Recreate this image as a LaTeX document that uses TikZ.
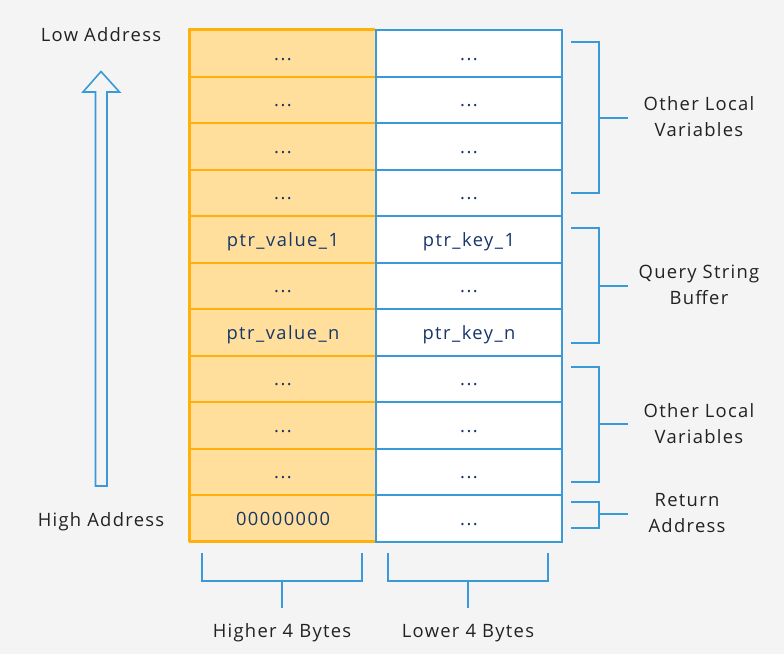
\documentclass[tikz,border=0pt]{standalone}
\usepackage{fontspec}
\setmainfont{Open Sans}
\newfontfamily\lblfont[LetterSpace=7]{Open Sans}
\newfontfamily\cellfont[LetterSpace=8]{Open Sans}
\definecolor{bgc}{HTML}{F4F4F4}
\definecolor{ofill}{HTML}{FFDF9B}
\definecolor{oline}{HTML}{FFB00A}
\definecolor{bline}{HTML}{3A9AD7}
\definecolor{navy}{HTML}{16356A}
\definecolor{txt}{HTML}{222222}
\newcommand{\myel}{...}
\tikzset{
  hcell/.style={draw=oline, fill=ofill, line width=2pt, minimum width=186pt, minimum height=46.5pt, inner sep=0pt, anchor=north west, text=navy, text height=14pt, text depth=0pt, font=\cellfont\fontsize{18.3}{20}\selectfont},
  lcell/.style={draw=bline, fill=white, line width=2pt, minimum width=186pt, minimum height=46.5pt, inner sep=0pt, anchor=north west, text=navy, text height=14pt, text depth=0pt, font=\cellfont\fontsize{18.3}{20}\selectfont},
  brk/.style={draw=bline, line width=1.6pt},
  lbl/.style={text=txt, font=\lblfont\fontsize{18.4}{26}\selectfont, align=center, inner sep=0pt}
}
\begin{document}
\begin{tikzpicture}[x=1pt,y=-1pt]
\fill[bgc] (0,0) rectangle (784,654);
\useasboundingbox (0,0) rectangle (784,654);
\foreach \i/\h/\l in {0/\myel/\myel, 1/\myel/\myel, 2/\myel/\myel, 3/\myel/\myel, 4/ptr\_value\_1/ptr\_key\_1, 5/\myel/\myel, 6/ptr\_value\_n/ptr\_key\_n, 7/\myel/\myel, 8/\myel/\myel, 9/\myel/\myel, 10/00000000/\myel}{
  \node[hcell] (h\i) at (189, 29+46.5*\i) {\h};
  \node[lcell] (l\i) at (375, 29+46.5*\i) {\l};
}
% redraw orange border on top
\draw[oline, line width=2pt] (375,29) -- (189,29) -- (189,540.5) -- (375,540.5);
% right brackets
\coordinate (b1a) at (571,42); \coordinate (b1b) at (571,193);
\draw[brk] (b1a) -- (599,42) -- (599,193) -- (b1b);
\draw[brk] (599,118) -- (628,118);
\node[lbl] (t1) at (699,117) {Other Local\\Variables};
\coordinate (b2a) at (571,228); \coordinate (b2b) at (571,343);
\draw[brk] (b2a) -- (599,228) -- (599,343) -- (b2b);
\draw[brk] (599,286) -- (628,286);
\node[lbl] (t2) at (699,285) {Query String\\Buffer};
\coordinate (b3a) at (571,367); \coordinate (b3b) at (571,482);
\draw[brk] (b3a) -- (599,367) -- (599,482) -- (b3b);
\draw[brk] (599,424) -- (628,424);
\node[lbl] (t3) at (699,424) {Other Local\\Variables};
\coordinate (b4a) at (571,502); \coordinate (b4b) at (571,528);
\draw[brk] (b4a) -- (599,502) -- (599,528) -- (b4b);
\draw[brk] (599,514) -- (628,514);
\node[lbl] (t4) at (687,513) {Return\\Address};
% bottom brackets
\draw[brk] (202,553) -- (202,581) -- (362,581) -- (362,553);
\draw[brk] (282,581) -- (282,608);
\node[lbl] (t5) at (282,633) {Higher 4 Bytes};
\draw[brk] (388,553) -- (388,581) -- (548,581) -- (548,553);
\draw[brk] (468,581) -- (468,608);
\node[lbl] (t6) at (468,633) {Lower 4 Bytes};
% arrow
\draw[bline, line width=1.6pt, fill=bgc] (95.5,486) -- (95.5,92) -- (83,92) -- (101,71.5) -- (119.5,92) -- (107,92) -- (107,486) -- cycle;
\node[lbl] (low) at (101,35) {Low Address};
\node[lbl] (high) at (101,522) {High Address};
\end{tikzpicture}
\end{document}
